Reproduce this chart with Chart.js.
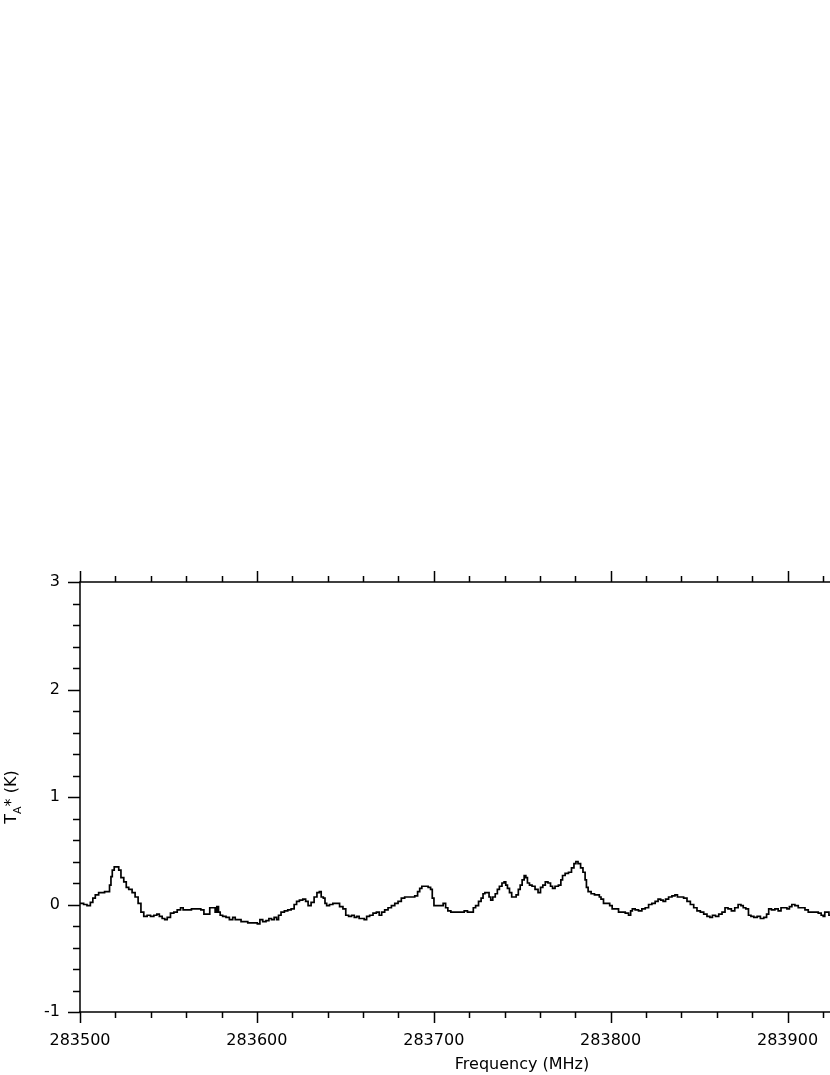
<!DOCTYPE html>
<html>
<head>
<meta charset="utf-8">
<script src="https://cdn.jsdelivr.net/npm/chart.js@4.4.1/dist/chart.umd.min.js"></script>
<style>
    html, body { margin: 0; padding: 0; background: #ffffff; }
    #wrap { width: 830px; height: 1075px; position: relative; }
    #spectrum { display: block; }
</style>
</head>
<body>
<div id="wrap"><canvas id="spectrum" width="830" height="1075"></canvas></div>
<script>
// frequency (MHz) of each read-off channel and antenna temperature (K)
const freqs = [
    283500, 283501.1, 283503.0, 283504.9, 283506.8, 283507.7, 283509.6, 283511.5, 283513.4, 283514.4,
    283516.2, 283517.2, 283517.8, 283518.7, 283520.0, 283521.3, 283522.5, 283523.8, 283525.7, 283526.6,
    283528.5, 283530.4, 283531.9, 283533.8, 283535.1, 283537.0, 283538.9, 283540.8, 283542.7, 283544.2,
    283545.5, 283547.4, 283548.4, 283550.2, 283552.1, 283554.0, 283555.9, 283557.8, 283558.8, 283561.6,
    283564.4, 283567.3, 283569.3, 283570.8, 283572.7, 283574.0, 283575.9, 283576.9, 283577.8, 283578.8,
    283579.7, 283581.6, 283583.5, 283585.4, 283587.3, 283588.2, 283590.1, 283592.0, 283593.9, 283595.8,
    283597.6, 283599.5, 283601.0, 283602.4, 283604.2, 283606.1, 283607.5, 283609.0, 283610.5, 283611.8,
    283612.7, 283614.6, 283616.5, 283618.4, 283620.3, 283621.8, 283623.1, 283625.0, 283626.9, 283628.2,
    283629.7, 283631.6, 283633.1, 283634.8, 283635.8, 283636.9, 283638.2, 283638.8, 283640.1, 283642.0,
    283643.9, 283645.8, 283647.7, 283649.6, 283650.9, 283652.8, 283654.3, 283655.8, 283657.1, 283658.5,
    283660.0, 283661.3, 283662.8, 283664.7, 283666.6, 283668.5, 283669.8, 283671.3, 283673.2, 283675.1,
    283677.0, 283678.9, 283680.7, 283682.6, 283684.5, 283686.4, 283688.3, 283690.2, 283691.5, 283692.6,
    283693.9, 283695.9, 283697.7, 283698.7, 283699.6, 283700.6, 283702.5, 283704.4, 283706.2, 283707.2,
    283708.7, 283710.6, 283712.5, 283714.3, 283716.3, 283718.1, 283720.0, 283721.9, 283722.8, 283724.5,
    283726.1, 283727.4, 283728.3, 283729.5, 283730.8, 283731.7, 283732.7, 283734.0, 283735.5, 283736.4,
    283737.8, 283739.3, 283740.2, 283741.2, 283742.1, 283743.5, 283744.6, 283745.9, 283747.2, 283748.4,
    283749.3, 283750.6, 283751.6, 283752.5, 283753.4, 283754.8, 283756.3, 283758.2, 283759.7, 283761.0,
    283762.3, 283763.8, 283765.3, 283766.7, 283767.6, 283769.5, 283771.4, 283772.3, 283773.3, 283775.2,
    283777.1, 283778.6, 283779.9, 283780.8, 283782.3, 283783.7, 283785.0, 283786.1, 283786.5, 283788.0,
    283789.9, 283791.8, 283793.1, 283794.1, 283795.0, 283796.9, 283798.8, 283800.1, 283801.6, 283803.5,
    283805.4, 283807.3, 283809.2, 283811.0, 283811.6, 283812.9, 283814.8, 283816.7, 283818.6, 283820.5,
    283822.4, 283824.2, 283826.1, 283827.5, 283829.0, 283830.3, 283831.8, 283833.7, 283835.6, 283837.1,
    283838.4, 283840.3, 283842.2, 283844.1, 283846.0, 283847.9, 283849.7, 283851.7, 283853.5, 283855.4,
    283856.8, 283858.3, 283860.2, 283862.0, 283863.9, 283865.4, 283867.3, 283869.2, 283871.1, 283873.0,
    283874.3, 283875.6, 283877.2, 283878.6, 283880.0, 283881.9, 283883.7, 283885.6, 283887.5, 283888.8,
    283889.9, 283891.9, 283893.8, 283895.6, 283897.0, 283898.9, 283900.4, 283901.7, 283903.2, 283905.1,
    283907.0, 283908.9, 283910.8, 283912.6, 283914.5, 283916.4, 283918.3, 283919.7, 283920.6, 283921.5,
    283922.8, 283924.0
];
const tA = [
    0.01, 0.01, 0.00, -0.01, 0.02, 0.06, 0.09, 0.11, 0.11, 0.12,
    0.12, 0.18, 0.26, 0.32, 0.35, 0.35, 0.32, 0.25, 0.21, 0.16,
    0.14, 0.11, 0.07, 0.01, -0.07, -0.11, -0.10, -0.11, -0.10, -0.09,
    -0.11, -0.13, -0.14, -0.12, -0.08, -0.07, -0.05, -0.03, -0.05, -0.05,
    -0.04, -0.04, -0.05, -0.09, -0.09, -0.03, -0.03, -0.07, -0.02, -0.07,
    -0.10, -0.11, -0.12, -0.14, -0.12, -0.14, -0.14, -0.16, -0.16, -0.17,
    -0.17, -0.17, -0.18, -0.14, -0.16, -0.15, -0.13, -0.14, -0.12, -0.14,
    -0.10, -0.07, -0.06, -0.05, -0.04, 0.00, 0.03, 0.04, 0.05, 0.03,
    -0.01, 0.02, 0.07, 0.11, 0.12, 0.07, 0.06, 0.01, -0.01, 0.00,
    0.01, 0.01, -0.02, -0.04, -0.10, -0.11, -0.10, -0.12, -0.11, -0.13,
    -0.13, -0.14, -0.11, -0.10, -0.08, -0.07, -0.10, -0.07, -0.05, -0.03,
    -0.01, 0.01, 0.03, 0.06, 0.07, 0.07, 0.07, 0.08, 0.12, 0.15,
    0.17, 0.17, 0.16, 0.14, 0.06, -0.01, -0.01, -0.01, 0.01, -0.03,
    -0.06, -0.07, -0.07, -0.07, -0.07, -0.06, -0.07, -0.07, -0.03, -0.01,
    0.03, 0.06, 0.10, 0.11, 0.11, 0.07, 0.04, 0.07, 0.10, 0.14,
    0.17, 0.20, 0.21, 0.18, 0.15, 0.11, 0.07, 0.07, 0.09, 0.14,
    0.18, 0.23, 0.27, 0.25, 0.20, 0.18, 0.17, 0.14, 0.11, 0.16,
    0.18, 0.21, 0.20, 0.17, 0.15, 0.17, 0.18, 0.23, 0.27, 0.29,
    0.30, 0.34, 0.38, 0.40, 0.38, 0.34, 0.30, 0.23, 0.16, 0.12,
    0.10, 0.09, 0.09, 0.07, 0.05, 0.01, 0.01, -0.01, -0.04, -0.04,
    -0.07, -0.07, -0.08, -0.10, -0.06, -0.04, -0.05, -0.06, -0.04, -0.03,
    0.00, 0.01, 0.03, 0.05, 0.04, 0.03, 0.05, 0.07, 0.08, 0.09,
    0.07, 0.07, 0.06, 0.03, 0.00, -0.03, -0.06, -0.07, -0.09, -0.11,
    -0.12, -0.10, -0.11, -0.09, -0.07, -0.03, -0.04, -0.06, -0.03, 0.00,
    -0.01, -0.03, -0.04, -0.10, -0.11, -0.12, -0.11, -0.13, -0.12, -0.09,
    -0.04, -0.05, -0.04, -0.06, -0.03, -0.03, -0.04, -0.02, 0.00, -0.01,
    -0.03, -0.03, -0.05, -0.07, -0.07, -0.07, -0.08, -0.10, -0.11, -0.07,
    -0.07, -0.10
];
// axis ranges and tick spacing
const xRange = [283500, 283924];
const yRange = [-1, 3];
const xMajorStep = 100;
const xMinorStep = 20;
const yMajorStep = 1;
const yMinorStep = 0.2;

const fontFamily = '"DejaVu Sans", Verdana, sans-serif';

// frame, tick marks and axis titles, drawn through the chart scales
const framePlugin = {
    id: 'frame',
    afterDraw(chart) {
        const ctx = chart.ctx;
        const area = chart.chartArea;
        const xs = chart.scales.x;
        const ys = chart.scales.y;
        const majorLen = 11;
        const minorLen = 6;

        ctx.save();
        ctx.strokeStyle = '#000';
        ctx.lineWidth = 1.5;
        ctx.beginPath();
        ctx.moveTo(area.left, area.top);
        ctx.lineTo(area.left, area.bottom);
        ctx.moveTo(area.left - 1, area.bottom);
        ctx.lineTo(area.right, area.bottom);
        ctx.moveTo(area.left - 1, area.top);
        ctx.lineTo(area.right, area.top);

        // x ticks on bottom (down) and top (up)
        for (let f = xRange[0]; f <= xRange[1]; f += xMinorStep) {
            const px = Math.round(xs.getPixelForValue(f)) + 0.5;
            const len = (f % xMajorStep === 0) ? majorLen : minorLen;
            ctx.moveTo(px, area.bottom);
            ctx.lineTo(px, area.bottom + len);
            ctx.moveTo(px, area.top);
            ctx.lineTo(px, area.top - len);
        }

        // y ticks on left (outward)
        for (let i = 0; i <= Math.round((yRange[1] - yRange[0]) / yMinorStep); i++) {
            const v = yRange[0] + i * yMinorStep;
            const py = Math.round(ys.getPixelForValue(v)) + 0.5;
            const isMajor = Math.abs(v / yMajorStep - Math.round(v / yMajorStep)) < 1e-6;
            ctx.moveTo(area.left, py);
            ctx.lineTo(area.left - (isMajor ? majorLen + 1 : minorLen + 1), py);
        }
        ctx.stroke();

        // x title
        ctx.fillStyle = '#000';
        ctx.font = '16px ' + fontFamily;
        ctx.textAlign = 'center';
        ctx.textBaseline = 'alphabetic';
        ctx.fillText('Frequency (MHz)', 522, 1069);

        // y title with subscript, rotated
        ctx.translate(16, 797);
        ctx.rotate(-Math.PI / 2);
        ctx.textAlign = 'left';
        const bigFont = '16px ' + fontFamily;
        const subFont = '11px ' + fontFamily;
        ctx.font = bigFont;
        const wT = ctx.measureText('T').width;
        const wRest = ctx.measureText('* (K)').width;
        ctx.font = subFont;
        const wA = ctx.measureText('A').width;
        let x0 = -(wT + wA + wRest) / 2;
        ctx.font = bigFont;
        ctx.fillText('T', x0, 0);
        ctx.font = subFont;
        ctx.fillText('A', x0 + wT, 5);
        ctx.font = bigFont;
        ctx.fillText('* (K)', x0 + wT + wA, 0);
        ctx.restore();
    }
};

const ctx = document.getElementById('spectrum').getContext('2d');
const spectrumChart = new Chart(ctx, {
    type: 'line',
    data: {
        datasets: [{
            label: 'TA*',
            data: freqs.map((f, i) => ({ x: f, y: tA[i] })),
            borderColor: '#000000',
            borderWidth: 1.7,
            pointRadius: 0,
            stepped: 'middle',
            fill: false
        }]
    },
    options: {
        responsive: false,
        animation: false,
        devicePixelRatio: 1,
        layout: { padding: { top: 582, left: 0, right: 0, bottom: 0 } },
        plugins: {
            legend: { display: false },
            tooltip: { enabled: false }
        },
        scales: {
            x: {
                type: 'linear',
                min: xRange[0],
                max: xRange[1],
                grid: { display: false, drawTicks: false },
                border: { display: false },
                afterFit: (scale) => {
                    scale.height = 63;
                    scale.paddingLeft = 0;
                    scale.paddingRight = 0;
                },
                ticks: {
                    stepSize: xMajorStep,
                    includeBounds: false,
                    autoSkip: false,
                    maxRotation: 0,
                    padding: 19,
                    color: '#000',
                    font: { family: fontFamily, size: 16 },
                    callback: (value) => String(value)
                }
            },
            y: {
                min: yRange[0],
                max: yRange[1],
                grid: { display: false, drawTicks: false },
                border: { display: false },
                afterFit: (scale) => {
                    scale.width = 80;
                    scale.paddingTop = 0;
                    scale.paddingBottom = 0;
                },
                ticks: {
                    stepSize: yMajorStep,
                    padding: 20,
                    color: '#000',
                    font: { family: fontFamily, size: 16 },
                    callback: (value) => String(value)
                }
            }
        }
    },
    plugins: [framePlugin]
});
</script>
</body>
</html>
